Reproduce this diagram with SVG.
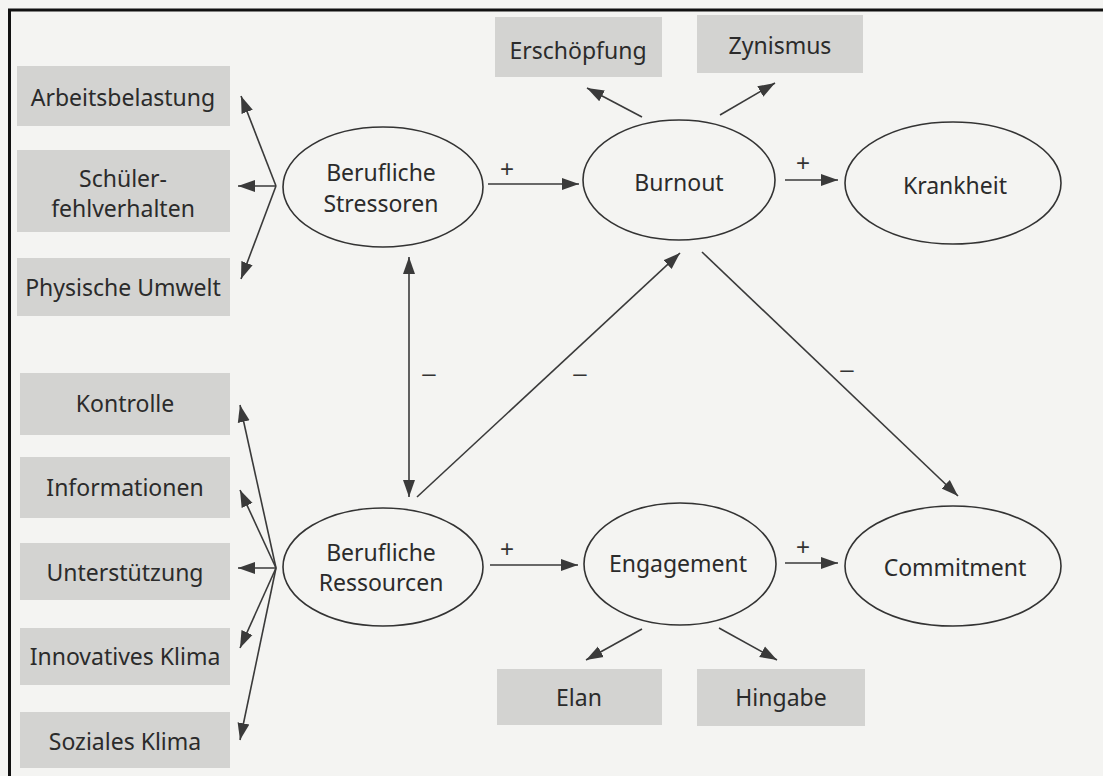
<svg xmlns="http://www.w3.org/2000/svg" width="1103" height="776" viewBox="0 0 1103 776">
<style>
.bg{fill:#f4f4f2}
.box{fill:#d3d3d1}
.ell{fill:none;stroke:#333;stroke-width:1.6}
.t{font-family:"Noto Sans","Liberation Sans",sans-serif;font-size:23px;fill:#2b2b2b;text-anchor:middle}
.sign{font-family:"Liberation Sans","Noto Sans",sans-serif;font-size:24px;fill:#333;text-anchor:middle}
.c{stroke:#3a3a3a;stroke-width:1.6;fill:none;marker-end:url(#ah)}
.frame{stroke:#111;stroke-width:3;fill:none}
</style>
<defs>
<marker id="ah" markerUnits="userSpaceOnUse" markerWidth="18" markerHeight="14" viewBox="0 0 18 14" refX="17" refY="7" orient="auto-start-reverse">
<path d="M0,1 L17,7 L0,13 z" fill="#3a3a3a"/>
</marker>
</defs>
<rect class="bg" x="0" y="0" width="1103" height="776"/>
<path class="frame" d="M9.5,776 L9.5,10 L1103,10"/>

<g id="arbeitsbelastung"><rect class="box" x="17" y="66" width="213" height="60"/><text class="t" x="123" y="106">Arbeitsbelastung</text></g>
<g id="schuelerfehlverhalten"><rect class="box" x="17" y="150" width="213" height="82"/><text class="t" x="123" y="187">Schüler-</text><text class="t" x="123" y="217">fehlverhalten</text></g>
<g id="physische-umwelt"><rect class="box" x="17" y="258" width="213" height="58"/><text class="t" x="123" y="296">Physische Umwelt</text></g>
<g id="kontrolle"><rect class="box" x="20" y="373" width="210" height="62"/><text class="t" x="125" y="412">Kontrolle</text></g>
<g id="informationen"><rect class="box" x="20" y="457" width="210" height="61"/><text class="t" x="125" y="496">Informationen</text></g>
<g id="unterstuetzung"><rect class="box" x="20" y="543" width="210" height="57"/><text class="t" x="125" y="581">Unterstützung</text></g>
<g id="innovatives-klima"><rect class="box" x="20" y="628" width="210" height="57"/><text class="t" x="125" y="665">Innovatives Klima</text></g>
<g id="soziales-klima"><rect class="box" x="20" y="712" width="210" height="56"/><text class="t" x="125" y="750">Soziales Klima</text></g>

<g id="erschoepfung"><rect class="box" x="495" y="17" width="167" height="60"/><text class="t" x="578" y="59">Erschöpfung</text></g>
<g id="zynismus"><rect class="box" x="697" y="15" width="166" height="58"/><text class="t" x="780" y="54">Zynismus</text></g>
<g id="elan"><rect class="box" x="497" y="669" width="165" height="56"/><text class="t" x="579" y="706">Elan</text></g>
<g id="hingabe"><rect class="box" x="697" y="669" width="168" height="57"/><text class="t" x="781" y="706">Hingabe</text></g>

<g id="berufliche-stressoren"><ellipse class="ell" cx="383" cy="187" rx="100" ry="60"/><text class="t" x="381" y="181">Berufliche</text><text class="t" x="381" y="212">Stressoren</text></g>
<g id="burnout"><ellipse class="ell" cx="679" cy="180" rx="96" ry="60"/><text class="t" x="679" y="191">Burnout</text></g>
<g id="krankheit"><ellipse class="ell" cx="953" cy="183" rx="108" ry="61"/><text class="t" x="955" y="194">Krankheit</text></g>
<g id="berufliche-ressourcen"><ellipse class="ell" cx="383" cy="567" rx="100" ry="59"/><text class="t" x="381" y="561">Berufliche</text><text class="t" x="381" y="591">Ressourcen</text></g>
<g id="engagement"><ellipse class="ell" cx="680" cy="564" rx="96" ry="61"/><text class="t" x="678" y="572">Engagement</text></g>
<g id="commitment"><ellipse class="ell" cx="953" cy="566" rx="108" ry="60"/><text class="t" x="955" y="576">Commitment</text></g>

<g id="connectors">
<path class="c" d="M276,186 L241,96"/>
<path class="c" d="M276,186 L238,186"/>
<path class="c" d="M276,186 L241,279"/>
<path class="c" d="M276,568 L240,405"/>
<path class="c" d="M276,568 L240,490"/>
<path class="c" d="M276,568 L238,568"/>
<path class="c" d="M276,568 L240,648"/>
<path class="c" d="M276,568 L240,740"/>
<path class="c" d="M488,184 L579,184"/>
<path class="c" d="M785,180 L838,180"/>
<path class="c" d="M490,565 L578,565"/>
<path class="c" d="M785,563 L838,563"/>
<path class="c" d="M642,117 L587,88"/>
<path class="c" d="M720,115 L775,83"/>
<path class="c" d="M642,629 L586,660"/>
<path class="c" d="M719,628 L777,660"/>
<path class="c" d="M409,257 L409,497" marker-start="url(#ah)"/>
<path class="c" d="M417,497 L680,253"/>
<path class="c" d="M702,252 L958,496"/>
<text class="sign" x="507" y="177">+</text>
<text class="sign" x="803" y="171">+</text>
<text class="sign" x="507" y="557">+</text>
<text class="sign" x="803" y="555">+</text>
<text class="sign" x="429" y="381">–</text>
<text class="sign" x="580" y="381">–</text>
<text class="sign" x="847" y="377">–</text>
</g>
</svg>
